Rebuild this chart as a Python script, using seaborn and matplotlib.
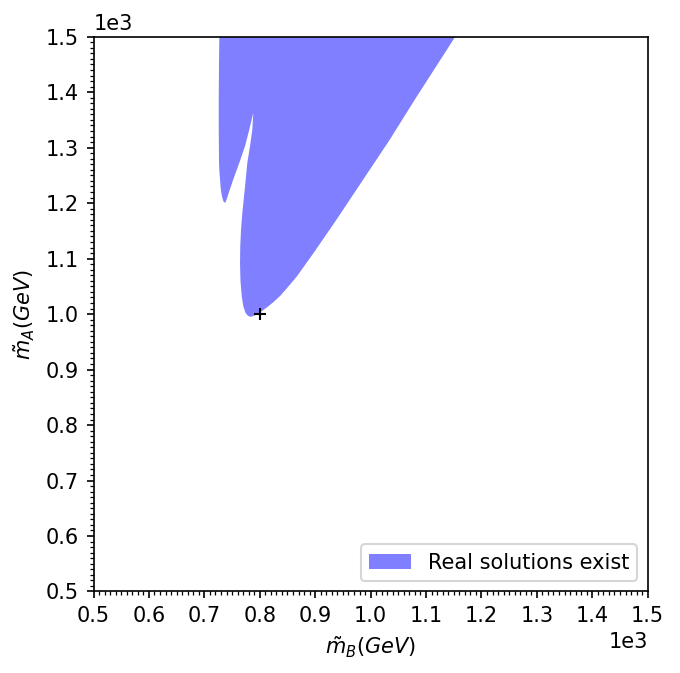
import numpy as np
import pandas as pd
import matplotlib
matplotlib.use("Agg")
import matplotlib.pyplot as plt
from matplotlib.ticker import MultipleLocator
import seaborn as sns

# Boundary of the region where real solutions exist, GeV
right_edge_mB = [1156, 1080, 1035, 987, 939, 897, 867, 851, 837, 824, 814, 806, 798, 791, 786]
right_edge_mA = [1505, 1387, 1315, 1243, 1171, 1110, 1068, 1049, 1033, 1021, 1013, 1007, 1001.5, 997.5, 995.5]

main_left_mB = [782, 778, 774, 770.4, 767.5, 765.2, 764.4, 764.8, 766.2, 768.6, 771.7, 774.7, 777.6, 782.5, 786.6, 788.4]
main_left_mA = [995.3, 997.5, 1003, 1014, 1032, 1060, 1092, 1122, 1152, 1183, 1213, 1243, 1273, 1303, 1333, 1363]

lobe_right_mB = [781.2, 773.5, 763.2, 752.3, 744.5, 741.0, 739.0]
lobe_right_mA = [1333, 1303, 1273, 1243, 1220, 1209, 1203.5]

lobe_left_mB = [737.4, 735.5, 733.8, 731.4, 729.5, 728.3, 727.0, 726.5, 726.0, 726.0, 726.5, 727.1]
lobe_left_mA = [1200.7, 1201.5, 1205, 1214, 1227, 1243, 1260, 1273, 1333, 1393, 1453, 1505]

# benchmark point
bench_mB = [800]
bench_mA = [1000]

boundary = pd.DataFrame({
    "mB": right_edge_mB + main_left_mB + lobe_right_mB + lobe_left_mB,
    "mA": right_edge_mA + main_left_mA + lobe_right_mA + lobe_left_mA,
})
bench = pd.DataFrame({"mB": bench_mB, "mA": bench_mA})

fig = plt.figure(figsize=(680 / 150, 673 / 150), dpi=150)
ax = fig.add_axes([0.1375, 0.1211, 0.815, 0.8244])

ax.fill(boundary["mB"], boundary["mA"], color="blue", alpha=0.5, linewidth=0,
        label="Real solutions exist")
sns.scatterplot(data=bench, x="mB", y="mA", marker="+", color="black", s=36,
                linewidth=1.0, ax=ax, legend=False)

ax.set_xlim(500, 1500)
ax.set_ylim(500, 1500)
ax.xaxis.set_major_locator(MultipleLocator(100))
ax.yaxis.set_major_locator(MultipleLocator(100))
ax.xaxis.set_minor_locator(MultipleLocator(10))
ax.yaxis.set_minor_locator(MultipleLocator(10))
ax.ticklabel_format(style="sci", axis="both", scilimits=(0, 0))

ax.set_xlabel(r"$\tilde{m}_B(GeV)$")
ax.set_ylabel(r"$\tilde{m}_A(GeV)$")
ax.legend(loc="lower right")

fig.savefig("out.png", dpi=150)
